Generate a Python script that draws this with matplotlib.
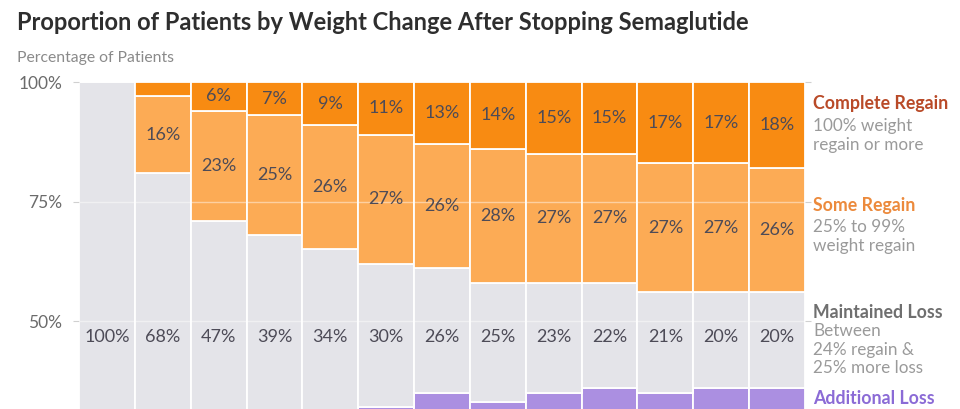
import matplotlib
matplotlib.use("Agg")
import matplotlib.pyplot as plt
import numpy as np

plt.rcParams['font.family'] = ['Lato', 'DejaVu Sans']

# ---- data ----
periods = list(range(13))
additional_loss = [0, 13, 24, 29, 31, 32, 35, 33, 35, 36, 35, 36, 36]
maintained_loss = [100, 68, 47, 39, 34, 30, 26, 25, 23, 22, 21, 20, 20]
some_regain = [0, 16, 23, 25, 26, 27, 26, 28, 27, 27, 27, 27, 26]
complete_regain = [0, 3, 6, 7, 9, 11, 13, 14, 15, 15, 17, 17, 18]
ytick_vals = [50, 75, 100]
ytick_labels = ['50%', '75%', '100%']

title = "Proportion of Patients by Weight Change After Stopping Semaglutide"
ylabel = "Percentage of Patients"

c_add = '#ab8fe1'
c_main = '#e4e4e9'
c_some = '#fcab55'
c_comp = '#f88b12'

W, H = 960, 409
fig = plt.figure(figsize=(W / 100, H / 100), dpi=100)
fig.patch.set_facecolor('white')

ax_left, ax_right = 79 / W, 805 / W
ax_top = 1 - 82 / H
ax = fig.add_axes([ax_left, 0, ax_right - ax_left, ax_top])

x = np.array(periods)
add = np.array(additional_loss)
main = np.array(maintained_loss)
some = np.array(some_regain)
comp = np.array(complete_regain)

kw = dict(width=1.0, edgecolor='white', linewidth=1.3)
ax.bar(x, add, color=c_add, **kw)
ax.bar(x, main, bottom=add, color=c_main, **kw)
ax.bar(x, some, bottom=add + main, color=c_some, **kw)
ax.bar(x, comp, bottom=add + main + some, color=c_comp, **kw)

# faint grid lines
for yv in [50, 75]:
    ax.axhline(yv, color='white', alpha=0.45, lw=1, zorder=3)

lab_color = '#4d4b57'
fs = 13
# maintained labels at fixed height
for xi, v in zip(x, main):
    ax.text(xi, 46.7, f"{v}%", ha='center', va='center', fontsize=fs, color=lab_color, zorder=4)
for xi, b, v in zip(x, add + main, some):
    if v >= 5:
        ax.text(xi, b + v / 2, f"{v}%", ha='center', va='center', fontsize=fs, color=lab_color, zorder=4)
for xi, b, v in zip(x, add + main + some, comp):
    if v >= 5:
        ax.text(xi, b + v / 2, f"{v}%", ha='center', va='center', fontsize=fs, color=lab_color, zorder=4)

ax.set_xlim(-0.5, 12.5)
ax.set_ylim(50 - (H - 321) / 4.78, 100)
ax.set_yticks(ytick_vals)
ax.set_yticklabels(ytick_labels)
ax.set_xticks([])
ax.tick_params(axis='y', length=4.3, color='#d0d0d0', labelsize=12.5, labelcolor='#6b6b6b', pad=7.9,
               right=True)
for s in ax.spines.values():
    s.set_visible(False)
ax.set_facecolor('white')

# titles
fig.text(17 / W, 1 - 22 / H, title, fontsize=17, fontweight='bold', color='#2e2e2e', ha='left', va='center')
fig.text(17 / W, 1 - 58 / H, ylabel, fontsize=11.3, color='#8a8a8a', ha='left', va='center')

# right labels
rx = 813 / W
def rlabel(ypx, txt, color, bold=False, size=12.3):
    fig.text(rx, 1 - ypx / H, txt, fontsize=size, color=color, ha='left', va='center',
             fontweight='bold' if bold else 'normal')

rlabel(104, "Complete Regain", '#b94a28', True, 12.8)
rlabel(126, "100% weight", '#9a9a9a')
rlabel(145, "regain or more", '#9a9a9a')
rlabel(206, "Some Regain", '#ec8a3c', True, 12.8)
rlabel(227, "25% to 99%", '#9a9a9a')
rlabel(246, "weight regain", '#9a9a9a')
rlabel(312, "Maintained Loss", '#6f6f6f', True, 12.8)
rlabel(331, "Between", '#9a9a9a')
rlabel(350, "24% regain &", '#9a9a9a')
rlabel(368, "25% more loss", '#9a9a9a')
rlabel(398, "Additional Loss", '#8b6bd6', True, 12.8)

fig.savefig('out.png', dpi=100)
